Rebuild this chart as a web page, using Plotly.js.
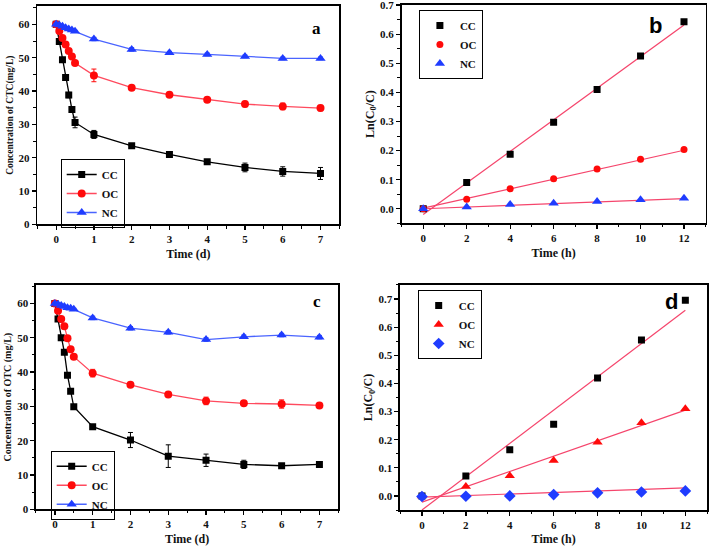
<!DOCTYPE html>
<html>
<head>
<meta charset="utf-8">
<script src="https://cdn.plot.ly/plotly-3.0.1.min.js"></script>
<style>html,body{margin:0;padding:0;background:#fff;}#chart{width:710px;height:547px;}</style>
</head>
<body>
<div id="chart"></div>
<script>
// ---- Data ----
const timeDays = [0, 0.083, 0.167, 0.25, 0.333, 0.417, 0.5, 1, 2, 3, 4, 5, 6, 7];
const timeHours = [0, 2, 4, 6, 8, 10, 12];
const seriesNames = ["CC", "OC", "NC"];

// Panel a: CTC concentration (mg/L)
const ctcCC = [60, 54.9, 49.4, 44.1, 38.8, 34.5, 30.6, 27.0, 23.6, 21.0, 18.8, 17.1, 15.9, 15.3];
const ctcCCerr = [0.3, 0.5, 0.5, 0.6, 0.8, 0.8, 1.6, 1.2, 0.6, 0.4, 0.4, 1.3, 1.4, 1.8];
const ctcOC = [60, 58.0, 55.9, 54.0, 52.0, 50.4, 48.4, 44.7, 41.0, 38.9, 37.4, 36.1, 35.4, 34.9];
const ctcOCerr = [0.3, 0.3, 0.3, 0.4, 0.4, 0.4, 0.4, 1.9, 0.4, 0.5, 0.4, 0.8, 1.0, 0.8];
const ctcNC = [60, 59.8, 59.4, 59.0, 58.6, 58.3, 57.9, 55.6, 52.5, 51.5, 51.0, 50.4, 49.8, 49.8];
const ctcNCerr = [0.3, 0.3, 0.3, 0.3, 0.3, 0.3, 0.3, 0.5, 0.5, 0.4, 0.4, 0.4, 0.4, 0.4];

// Panel b: ln(C0/C) for CTC
const lnCtcCC = [0, 0.090, 0.187, 0.297, 0.410, 0.525, 0.643];
const lnCtcOC = [0, 0.033, 0.069, 0.103, 0.137, 0.170, 0.204];
const lnCtcNC = [0, 0.006, 0.015, 0.019, 0.025, 0.031, 0.036];
const fitX = [0, 12];
const fitCtcCC = [-0.020, 0.632];
const fitCtcOC = [0.002, 0.201];
const fitCtcNC = [0.000, 0.035];

// Panel c: OTC concentration (mg/L)
const otcCC = [60, 55.5, 50.0, 45.8, 39.1, 34.4, 29.9, 24.1, 20.2, 15.5, 14.3, 13.1, 12.7, 13.1];
const otcCCerr = [0.3, 0.5, 0.5, 0.5, 0.6, 0.6, 0.6, 0.5, 2.2, 3.3, 1.8, 1.2, 0.6, 0.5];
const otcOC = [60, 57.9, 55.5, 53.4, 49.9, 46.7, 44.5, 39.7, 36.3, 33.5, 31.6, 30.9, 30.7, 30.3];
const otcOCerr = [0.3, 0.4, 0.4, 0.4, 0.4, 0.4, 0.6, 1.1, 0.5, 0.5, 1.1, 0.6, 1.2, 0.5];
const otcNC = [60, 59.8, 59.4, 59.1, 58.8, 58.6, 58.3, 55.8, 52.8, 51.6, 49.5, 50.3, 50.8, 50.2];
const otcNCerr = [0.3, 0.3, 0.3, 0.3, 0.3, 0.3, 0.3, 0.5, 0.5, 0.5, 0.5, 0.5, 0.5, 0.5];

// Panel d: ln(C0/C) for OTC
const lnOtcCC = [0, 0.071, 0.164, 0.255, 0.419, 0.554, 0.696];
const lnOtcOC = [0, 0.034, 0.072, 0.126, 0.191, 0.260, 0.310];
const lnOtcNC = [-0.002, -0.001, 0.000, 0.005, 0.011, 0.014, 0.018];
const fitOtcCC = [-0.050, 0.660];
const fitOtcOC = [-0.022, 0.305];
const fitOtcNC = [-0.004, 0.029];

// ---- Styling ----
const BLACK = "#000000", RED = "#ff0a0a", BLUE = "#1f3cff";
const REDLINE = "#ff4a5e", BLUELINE = "#4a64ff", FIT = "#f5456c";
const serif = "Liberation Serif";
const tickFont = {family: serif, size: 11, color: "#111", weight: "bold"};
const legFont = {family: serif, size: 11, color: "#111", weight: "bold"};

function conc(x, y, err, name, color, lineColor, symbol, size, xa, ya, leg) {
  return {x: x, y: y, name: name, type: "scatter", mode: "lines+markers",
    xaxis: xa, yaxis: ya, legend: leg,
    line: {color: lineColor, width: 1.3},
    marker: {color: color, symbol: symbol, size: size},
    error_y: {type: "data", array: err, visible: true, color: color, thickness: 1, width: 2.5}};
}
function pts(x, y, name, color, symbol, size, xa, ya, leg) {
  return {x: x, y: y, name: name, type: "scatter", mode: "markers",
    xaxis: xa, yaxis: ya, legend: leg,
    marker: {color: color, symbol: symbol, size: size}};
}
function fit(x, y, xa, ya) {
  return {x: x, y: y, type: "scatter", mode: "lines", showlegend: false, hoverinfo: "skip",
    xaxis: xa, yaxis: ya, line: {color: FIT, width: 1.2}};
}

const traces = [
  conc(timeDays, ctcCC, ctcCCerr, seriesNames[0], BLACK, BLACK, "square", 7, "x", "y", "legend"),
  conc(timeDays, ctcOC, ctcOCerr, seriesNames[1], RED, REDLINE, "circle", 8, "x", "y", "legend"),
  conc(timeDays, ctcNC, ctcNCerr, seriesNames[2], BLUE, BLUELINE, "triangle-up", 9, "x", "y", "legend"),

  fit(fitX, fitCtcCC, "x2", "y2"),
  fit(fitX, fitCtcOC, "x2", "y2"),
  fit(fitX, fitCtcNC, "x2", "y2"),
  pts(timeHours, lnCtcCC, seriesNames[0], BLACK, "square", 7, "x2", "y2", "legend2"),
  pts(timeHours, lnCtcOC, seriesNames[1], RED, "circle", 7, "x2", "y2", "legend2"),
  pts(timeHours, lnCtcNC, seriesNames[2], BLUE, "triangle-up", 9, "x2", "y2", "legend2"),

  conc(timeDays, otcCC, otcCCerr, seriesNames[0], BLACK, BLACK, "square", 7, "x3", "y3", "legend3"),
  conc(timeDays, otcOC, otcOCerr, seriesNames[1], RED, REDLINE, "circle", 8, "x3", "y3", "legend3"),
  conc(timeDays, otcNC, otcNCerr, seriesNames[2], BLUE, BLUELINE, "triangle-up", 9, "x3", "y3", "legend3"),

  fit(fitX, fitOtcCC, "x4", "y4"),
  fit(fitX, fitOtcOC, "x4", "y4"),
  fit(fitX, fitOtcNC, "x4", "y4"),
  pts(timeHours, lnOtcCC, seriesNames[0], BLACK, "square", 7, "x4", "y4", "legend4"),
  pts(timeHours, lnOtcOC, seriesNames[1], RED, "triangle-up", 9, "x4", "y4", "legend4"),
  pts(timeHours, lnOtcNC, seriesNames[2], BLUE, "diamond", 9, "x4", "y4", "legend4")
];

function axis(domain, range, dtick, minorDtick, anchor, title, titleSize, standoff, tickfmt) {
  const a = {domain: domain, range: range, dtick: dtick, tick0: 0, anchor: anchor,
    showline: true, linecolor: "#000", linewidth: 1.6, mirror: true,
    ticks: "outside", ticklen: 4, tickwidth: 1.3, tickcolor: "#000",
    ticklabeloverflow: "allow",
    minor: {dtick: minorDtick, ticks: "outside", ticklen: 2.5, tickwidth: 1, tickcolor: "#000", showgrid: false},
    showgrid: false, zeroline: false, tickfont: tickFont,
    title: {text: title, font: {family: serif, size: titleSize, color: "#111", weight: "bold"}, standoff: standoff}};
  if (tickfmt) a.tickformat = tickfmt;
  return a;
}
function legend(x, y) {
  return {x: x, y: y, xanchor: "left", yanchor: "top", bgcolor: "rgba(255,255,255,0)",
    bordercolor: "#000", borderwidth: 1, font: legFont, itemwidth: 30,
    tracegroupgap: 0};
}
function label(text, x, y, sans) {
  return {text: text, x: x, y: y, xref: "paper", yref: "paper", showarrow: false,
    xanchor: "center", yanchor: "middle",
    font: sans ? {family: "Liberation Sans", size: 22, weight: "bold", color: "#000"}
               : {family: serif, size: 17, weight: "bold", color: "#000"}};
}

const layout = {
  width: 710, height: 547,
  margin: {l: 0, r: 0, t: 0, b: 0},
  paper_bgcolor: "#fff", plot_bgcolor: "#fff",
  showlegend: true,
  xaxis: axis([0.0525, 0.478], [-0.5, 7.5], 1, 0.5, "y", "Time (d)", 12, 5),
  yaxis: axis([0.5896, 0.989], [0, 65.5], 10, 5, "x", "Concentration of CTC(mg/L)", 9.5, 3),
  xaxis2: axis([0.5655, 0.994], [-1, 13], 2, 1, "y2", "Time (h)", 12, 5),
  yaxis2: axis([0.5918, 0.9909], [-0.05, 0.7005], 0.1, 0.05, "x2", "Ln(C<sub>0</sub>/C)", 12, 3, ".1f"),
  xaxis3: axis([0.0507, 0.4765], [-0.5, 7.5], 1, 0.5, "y3", "Time (d)", 12, 5),
  yaxis3: axis([0.0689, 0.479], [0, 65.4], 10, 5, "x3", "Concentration of OTC (mg/L)", 10, 3),
  xaxis4: axis([0.5634, 0.9962], [-1, 13], 2, 1, "y4", "Time (h)", 12, 5),
  yaxis4: axis([0.0676, 0.479], [-0.05, 0.75], 0.1, 0.05, "x4", "Ln(C<sub>0</sub>/C)", 12, 3, ".1f"),
  legend: legend(0.0855, 0.7093),
  legend2: legend(0.590, 0.9817),
  legend3: legend(0.0714, 0.176),
  legend4: legend(0.5883, 0.4698),
  annotations: [
    label("a", 316.7 / 710, 1 - 28.3 / 547, false),
    label("b", 655 / 710, 1 - 25 / 547, true),
    label("c", 316.7 / 710, 1 - 301.7 / 547, false),
    label("d", 671.7 / 710, 1 - 301 / 547, true)
  ]
};

Plotly.newPlot("chart", traces, layout, {displayModeBar: false, staticPlot: true});
</script>
</body>
</html>
